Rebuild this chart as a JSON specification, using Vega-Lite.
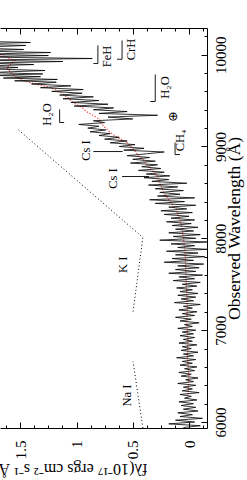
{
  "$schema": "https://vega.github.io/schema/vega-lite/v6.json",
  "width": 207,
  "height": 400,
  "autosize": {"type": "none"},
  "padding": {"left": 0, "top": 28, "right": 40, "bottom": 52},
  "background": "white",
  "config": {
    "view": {"stroke": null},
    "axis": {"grid": false, "domainColor": "black", "tickColor": "black", "labelColor": "black", "titleColor": "black", "labelFont": "Liberation Serif", "titleFont": "Liberation Serif", "titleFontWeight": "normal", "labelFontSize": 15, "titleFontSize": 17.5, "domainWidth": 1, "tickWidth": 1}
  },
  "datasets": {
    "spec": [
      {"w":5940,"f":0.05},{"w":5960,"f":-0.10},{"w":5980,"f":0.18},{"w":6000,"f":-0.05},{"w":6020,"f":0.12},{"w":6040,"f":-0.12},{"w":6060,"f":0.08},{"w":6080,"f":-0.03},{"w":6100,"f":0.10},{"w":6120,"f":-0.08},
      {"w":6140,"f":0.05},{"w":6160,"f":-0.06},{"w":6180,"f":0.07},{"w":6200,"f":-0.04},{"w":6220,"f":0.09},{"w":6240,"f":-0.07},{"w":6260,"f":0.04},{"w":6280,"f":-0.02},{"w":6300,"f":0.08},{"w":6320,"f":-0.09},
      {"w":6340,"f":0.06},{"w":6360,"f":-0.03},{"w":6380,"f":0.05},{"w":6400,"f":-0.06},{"w":6420,"f":0.10},{"w":6440,"f":-0.04},{"w":6460,"f":0.03},{"w":6480,"f":-0.08},{"w":6500,"f":0.07},{"w":6520,"f":-0.02},
      {"w":6540,"f":0.09},{"w":6560,"f":-0.05},{"w":6580,"f":0.04},{"w":6600,"f":-0.07},{"w":6620,"f":0.08},{"w":6640,"f":-0.03},{"w":6660,"f":0.06},{"w":6680,"f":-0.06},{"w":6700,"f":0.11},{"w":6720,"f":-0.04},
      {"w":6740,"f":0.05},{"w":6760,"f":-0.08},{"w":6780,"f":0.07},{"w":6800,"f":-0.02},{"w":6820,"f":0.06},{"w":6840,"f":-0.07},{"w":6860,"f":0.09},{"w":6880,"f":-0.03},{"w":6900,"f":0.05},{"w":6920,"f":-0.05},
      {"w":6940,"f":0.08},{"w":6960,"f":-0.04},{"w":6980,"f":0.06},{"w":7000,"f":-0.06},{"w":7020,"f":0.10},{"w":7040,"f":-0.03},{"w":7060,"f":0.04},{"w":7080,"f":-0.09},{"w":7100,"f":0.08},{"w":7120,"f":-0.02},
      {"w":7140,"f":0.12},{"w":7160,"f":-0.05},{"w":7180,"f":0.06},{"w":7200,"f":-0.07},{"w":7220,"f":0.09},{"w":7240,"f":-0.03},{"w":7260,"f":0.05},{"w":7280,"f":-0.10},{"w":7300,"f":0.13},{"w":7320,"f":-0.04},
      {"w":7340,"f":0.07},{"w":7360,"f":-0.06},{"w":7380,"f":0.10},{"w":7400,"f":-0.08},{"w":7420,"f":0.08},{"w":7440,"f":-0.03},{"w":7460,"f":0.11},{"w":7480,"f":-0.07},{"w":7500,"f":0.06},{"w":7520,"f":-0.10},
      {"w":7540,"f":0.14},{"w":7560,"f":-0.05},{"w":7580,"f":0.09},{"w":7600,"f":-0.12},{"w":7620,"f":0.18},{"w":7640,"f":-0.06},{"w":7660,"f":0.12},{"w":7680,"f":-0.09},{"w":7700,"f":0.10},{"w":7720,"f":-0.13},
      {"w":7740,"f":0.22},{"w":7760,"f":-0.04},{"w":7780,"f":0.15},{"w":7800,"f":-0.14},{"w":7820,"f":0.12},{"w":7840,"f":-0.08},{"w":7860,"f":0.20},{"w":7880,"f":-0.16},{"w":7900,"f":0.10},{"w":7920,"f":-0.05},
      {"w":7940,"f":0.16},{"w":7960,"f":-0.17},{"w":7980,"f":0.26},{"w":8000,"f":-0.06},{"w":8020,"f":0.14},{"w":8040,"f":-0.10},{"w":8060,"f":0.18},{"w":8080,"f":-0.04},{"w":8100,"f":0.12},{"w":8120,"f":-0.08},
      {"w":8140,"f":0.15},{"w":8160,"f":-0.02},{"w":8180,"f":0.20},{"w":8200,"f":-0.05},{"w":8220,"f":0.16},{"w":8240,"f":0.00},{"w":8260,"f":0.22},{"w":8280,"f":-0.03},{"w":8300,"f":0.25},{"w":8320,"f":0.02},
      {"w":8340,"f":0.18},{"w":8360,"f":-0.06},{"w":8380,"f":0.30},{"w":8400,"f":0.04},{"w":8420,"f":0.35},{"w":8440,"f":-0.05},{"w":8460,"f":0.28},{"w":8480,"f":0.08},{"w":8500,"f":0.26},{"w":8520,"f":0.05},
      {"w":8540,"f":0.30},{"w":8560,"f":0.10},{"w":8580,"f":0.36},{"w":8600,"f":0.02},{"w":8620,"f":0.33},{"w":8640,"f":0.18},{"w":8660,"f":0.40},{"w":8680,"f":0.17},{"w":8700,"f":0.38},{"w":8720,"f":0.22},
      {"w":8740,"f":0.45},{"w":8760,"f":0.25},{"w":8780,"f":0.42},{"w":8800,"f":0.28},{"w":8820,"f":0.52},{"w":8840,"f":0.30},{"w":8860,"f":0.50},{"w":8880,"f":0.35},{"w":8900,"f":0.55},{"w":8920,"f":0.38},
      {"w":8940,"f":0.22},{"w":8960,"f":0.58},{"w":8980,"f":0.40},{"w":9000,"f":0.62},{"w":9020,"f":0.48},{"w":9040,"f":0.70},{"w":9060,"f":0.55},{"w":9080,"f":0.75},{"w":9100,"f":0.62},{"w":9120,"f":0.80},
      {"w":9140,"f":0.70},{"w":9160,"f":0.88},{"w":9180,"f":0.74},{"w":9200,"f":0.90},{"w":9220,"f":0.80},{"w":9240,"f":0.98},{"w":9260,"f":0.75},{"w":9280,"f":0.85},{"w":9300,"f":0.50},{"w":9320,"f":0.72},
      {"w":9340,"f":0.28},{"w":9360,"f":0.80},{"w":9380,"f":0.55},{"w":9400,"f":0.85},{"w":9420,"f":0.67},{"w":9440,"f":1.02},{"w":9460,"f":0.72},{"w":9480,"f":1.05},{"w":9500,"f":0.80},{"w":9520,"f":1.12},
      {"w":9540,"f":0.85},{"w":9560,"f":1.15},{"w":9580,"f":0.95},{"w":9600,"f":1.22},{"w":9620,"f":0.94},{"w":9640,"f":1.32},{"w":9660,"f":1.05},{"w":9680,"f":1.40},{"w":9700,"f":1.18},{"w":9715,"f":1.55},
      {"w":9730,"f":1.17},{"w":9745,"f":1.65},{"w":9760,"f":1.32},{"w":9775,"f":1.75},{"w":9790,"f":1.30},{"w":9805,"f":1.78},{"w":9827,"f":1.28},{"w":9845,"f":1.80},{"w":9860,"f":1.52},{"w":9876,"f":1.85},
      {"w":9892,"f":1.38},{"w":9908,"f":1.82},{"w":9925,"f":1.12},{"w":9940,"f":1.88},{"w":9958,"f":0.86},{"w":9975,"f":1.90},{"w":9990,"f":1.25},{"w":10005,"f":1.85},{"w":10023,"f":1.23},{"w":10040,"f":1.92},
      {"w":10056,"f":1.47},{"w":10075,"f":1.95},{"w":10100,"f":1.45},{"w":10115,"f":1.98},{"w":10132,"f":1.41},{"w":10150,"f":2.00},{"w":10170,"f":1.78},{"w":10190,"f":2.05},{"w":10210,"f":1.85},{"w":10230,"f":2.10},
      {"w":10250,"f":1.90},{"w":10270,"f":2.10},{"w":10290,"f":2.00}
    ],
    "tmpl": [
      {"w":6300,"f":0.01},{"w":6500,"f":0.0},{"w":6700,"f":0.015},{"w":6900,"f":0.01},{"w":7100,"f":0.02},{"w":7300,"f":0.015},{"w":7500,"f":0.025},{"w":7700,"f":0.03},{"w":7850,"f":0.035},{"w":8000,"f":0.05},
      {"w":8100,"f":0.06},{"w":8200,"f":0.08},{"w":8260,"f":0.10},{"w":8313,"f":0.11},{"w":8370,"f":0.15},{"w":8420,"f":0.18},{"w":8470,"f":0.21},{"w":8499,"f":0.23},{"w":8550,"f":0.24},{"w":8600,"f":0.26},
      {"w":8673,"f":0.28},{"w":8720,"f":0.31},{"w":8780,"f":0.36},{"w":8858,"f":0.41},{"w":8900,"f":0.45},{"w":8950,"f":0.48},{"w":9000,"f":0.52},{"w":9043,"f":0.55},{"w":9100,"f":0.64},{"w":9152,"f":0.70},
      {"w":9200,"f":0.74},{"w":9261,"f":0.79},{"w":9300,"f":0.80},{"w":9330,"f":0.84},{"w":9370,"f":0.90},{"w":9424,"f":0.95},{"w":9470,"f":1.02},{"w":9533,"f":1.08},{"w":9590,"f":1.14},{"w":9642,"f":1.23},
      {"w":9690,"f":1.40},{"w":9718,"f":1.48},{"w":9750,"f":1.53},{"w":9800,"f":1.58},{"w":9860,"f":1.62},{"w":9900,"f":1.58},{"w":9936,"f":1.55},{"w":9990,"f":1.66},{"w":10050,"f":1.75},{"w":10150,"f":1.85},{"w":10290,"f":1.95}
    ],
    "dots": [
      {"seg":"A","w":5935,"f":0.41},{"seg":"A","w":6658,"f":0.497},
      {"seg":"B","w":7203,"f":0.497},{"seg":"B","w":8009,"f":0.41},{"seg":"B","w":9185,"f":1.52}
    ],
    "brackets": [
      {"id":"FeH","o":1,"w":9903,"f":0.85},{"id":"FeH","o":2,"w":9903,"f":0.81},{"id":"FeH","o":3,"w":10100,"f":0.81},
      {"id":"CrH","o":1,"w":9950,"f":0.64},{"id":"CrH","o":2,"w":9950,"f":0.595},{"id":"CrH","o":3,"w":10154,"f":0.595},
      {"id":"H2Oa","o":1,"w":9490,"f":0.345},{"id":"H2Oa","o":2,"w":9490,"f":0.30},{"id":"H2Oa","o":3,"w":9784,"f":0.30},
      {"id":"H2Ob","o":1,"w":9261,"f":1.11},{"id":"H2Ob","o":2,"w":9261,"f":1.15},{"id":"H2Ob","o":3,"w":9403,"f":1.15},
      {"id":"CH4","o":1,"w":8912,"f":0.08},{"id":"CH4","o":2,"w":8912,"f":0.124},{"id":"CH4","o":3,"w":9043,"f":0.124},
      {"id":"Cs1","o":1,"w":8945,"f":0.85},{"id":"Cs1","o":2,"w":8945,"f":0.59},
      {"id":"Cs2","o":1,"w":8673,"f":0.595},{"id":"Cs2","o":2,"w":8673,"f":0.355}
    ],
    "labels": [
      {"t":"FeH","w":9980,"f":0.73},
      {"t":"CrH","w":10056,"f":0.52},
      {"t":"H₂O","w":9642,"f":0.21},
      {"t":"⊕","w":9326,"f":0.145},
      {"t":"CH₄","w":9065,"f":0.08},
      {"t":"H₂O","w":9348,"f":1.26},
      {"t":"Cs I","w":8956,"f":0.92},
      {"t":"Cs I","w":8651,"f":0.674},
      {"t":"K I","w":7712,"f":0.585},
      {"t":"Na I","w":6288,"f":0.55}
    ]
  },
  "resolve": {"axis": {"x": "independent", "y": "independent"}},
  "layer": [
    {
      "mark": {"type": "rule", "color": "#888888", "strokeDash": [6, 4], "strokeWidth": 1},
      "encoding": {
        "x": {"datum": 0, "type": "quantitative", "scale": {"domain": [-0.16, 1.68], "reverse": true, "nice": false, "zero": false}, "axis": null}
      }
    },
    {
      "data": {"name": "tmpl"},
      "mark": {"type": "line", "color": "#f25c5c", "strokeDash": [1.5, 1.5], "strokeWidth": 1.2, "clip": true},
      "encoding": {
        "x": {"field": "f", "type": "quantitative", "scale": {"domain": [-0.16, 1.68], "reverse": true, "nice": false, "zero": false},
              "axis": {"orient": "top", "values": [0, 0.5, 1, 1.5], "tickSize": -6, "labels": false, "title": null}},
        "y": {"field": "w", "type": "quantitative", "scale": {"domain": [5935, 10290], "nice": false, "zero": false},
              "axis": {"orient": "right", "values": [6000,6200,6400,6600,6800,7000,7200,7400,7600,7800,8000,8200,8400,8600,8800,9000,9200,9400,9600,9800,10000,10200], "tickSize": -3, "labels": false, "domain": false, "title": null}},
        "order": {"field": "w", "type": "quantitative"}
      }
    },
    {
      "data": {"name": "spec"},
      "mark": {"type": "line", "color": "black", "strokeWidth": 0.8, "clip": true},
      "encoding": {
        "x": {"field": "f", "type": "quantitative", "scale": {"domain": [-0.16, 1.68], "reverse": true, "nice": false, "zero": false},
              "axis": {"orient": "bottom", "values": [0, 0.5, 1, 1.5], "format": "~g", "tickSize": -6, "labelAngle": 270, "labelAlign": "right", "labelBaseline": "middle", "labelPadding": 18, "labelFlush": false, "labelOverlap": false, "labelBound": false,
                       "title": "fλ(10⁻¹⁷ ergs cm⁻² s⁻¹ Å⁻¹)", "titleAngle": 180, "titleX": 147, "titleY": 40, "titleAlign": "left", "titleBaseline": "middle", "titleFontSize": 16}},
        "y": {"field": "w", "type": "quantitative", "scale": {"domain": [5935, 10290], "nice": false, "zero": false},
              "axis": {"orient": "right", "values": [6000, 7000, 8000, 9000, 10000], "format": "d", "tickSize": -6, "labelAngle": 270, "labelAlign": "center", "labelBaseline": "top", "labelPadding": 12, "labelFlush": false, "labelOverlap": false, "labelBound": false,
                       "title": "Observed Wavelength (Å)", "titleAngle": 270, "titleX": 27, "titleY": 200, "titleAlign": "center", "titleBaseline": "middle"}},
        "order": {"field": "w", "type": "quantitative"}
      }
    },
    {
      "data": {"name": "dots"},
      "mark": {"type": "line", "color": "black", "strokeDash": [1, 2.5], "strokeWidth": 1, "clip": true},
      "encoding": {
        "x": {"field": "f", "type": "quantitative", "scale": {"domain": [-0.16, 1.68], "reverse": true, "nice": false, "zero": false},
              "axis": {"orient": "bottom", "values": [-0.125,0.125,0.25,0.375,0.625,0.75,0.875,1.125,1.25,1.375,1.625], "tickSize": -3, "labels": false, "domain": false, "title": null}},
        "y": {"field": "w", "type": "quantitative", "scale": {"domain": [5935, 10290], "nice": false, "zero": false}, "axis": null},
        "detail": {"field": "seg", "type": "nominal"},
        "order": {"field": "w", "type": "quantitative"}
      }
    },
    {
      "data": {"name": "brackets"},
      "mark": {"type": "line", "color": "black", "strokeWidth": 0.9, "clip": true},
      "encoding": {
        "x": {"field": "f", "type": "quantitative", "scale": {"domain": [-0.16, 1.68], "reverse": true, "nice": false, "zero": false},
              "axis": {"orient": "top", "values": [-0.125,0.125,0.25,0.375,0.625,0.75,0.875,1.125,1.25,1.375,1.625], "tickSize": -3, "labels": false, "domain": false, "title": null}},
        "y": {"field": "w", "type": "quantitative", "scale": {"domain": [5935, 10290], "nice": false, "zero": false}, "axis": null},
        "detail": {"field": "id", "type": "nominal"},
        "order": {"field": "o", "type": "quantitative"}
      }
    },
    {
      "data": {"name": "labels"},
      "mark": {"type": "text", "angle": 270, "font": "Liberation Serif, DejaVu Sans", "fontSize": 12.5, "color": "black", "align": "center", "baseline": "middle"},
      "encoding": {
        "x": {"field": "f", "type": "quantitative", "scale": {"domain": [-0.16, 1.68], "reverse": true, "nice": false, "zero": false}, "axis": null},
        "y": {"field": "w", "type": "quantitative", "scale": {"domain": [5935, 10290], "nice": false, "zero": false}, "axis": null},
        "text": {"field": "t", "type": "nominal"}
      }
    }
  ]
}
